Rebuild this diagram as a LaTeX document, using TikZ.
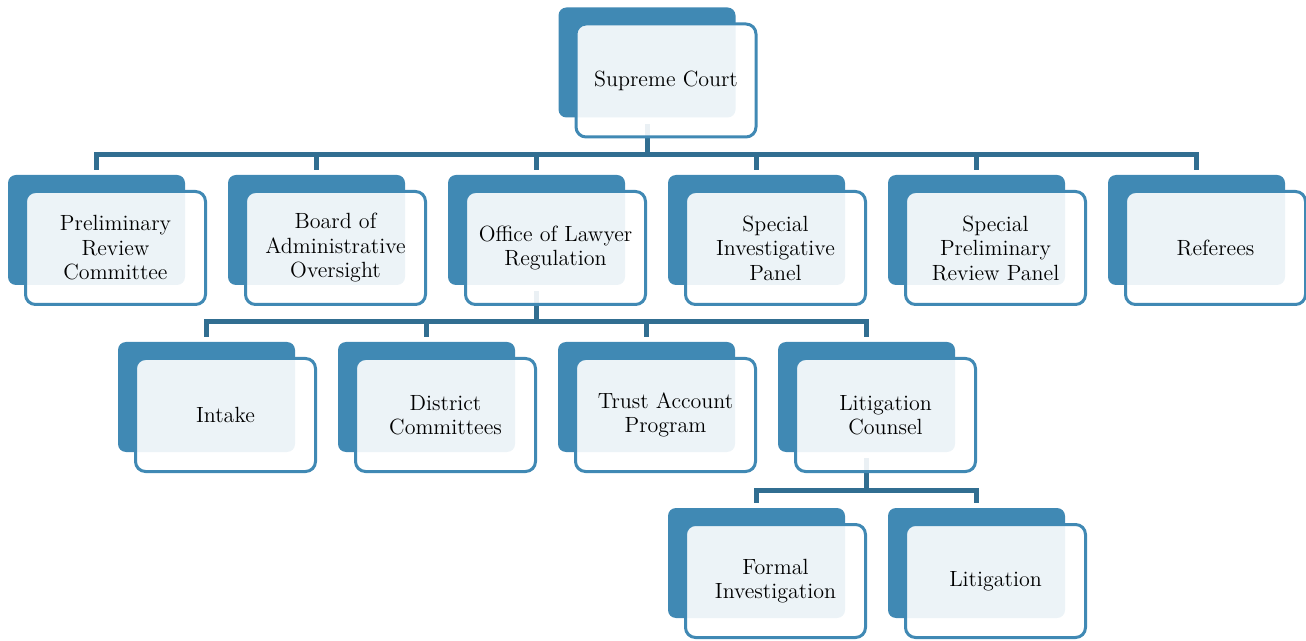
\documentclass[tikz,border=0pt]{standalone}
\usepackage{tikz}
\usetikzlibrary{backgrounds}
\definecolor{boxblue}{RGB}{64,137,180}
\definecolor{linkblue}{RGB}{49,110,145}

\begin{document}
\begin{tikzpicture}[x=0.5pt,y=-0.5pt,
  back/.style={fill=boxblue,rounded corners=4pt,minimum width=88.5pt,minimum height=55pt,inner sep=0pt},
  front/.style={draw=boxblue,line width=1.5pt,fill=white,fill opacity=0.9,text opacity=1,rounded corners=5pt,
    minimum width=90pt,minimum height=56.5pt,inner sep=0pt,align=center,font=\fontsize{11}{12.25}\selectfont},
  link/.style={draw=linkblue,line width=2.5pt}]
\useasboundingbox (0,0) rectangle (1306,641);

% top
\node[back] (sc-b) at (647,62.5) {};
\node[front] (sc) at ([shift={(19,18)}]sc-b) {Supreme Court};

% second row
\node[back] (prc-b) at (96.5,230) {};
\node[front] (prc) at ([shift={(19,18)}]prc-b) {Preliminary\\Review\\Committee};
\node[back] (bao-b) at (316.5,230) {};
\node[front] (bao) at ([shift={(19,18)}]bao-b) {Board of\\Administrative\\Oversight};
\node[back] (olr-b) at (536.5,230) {};
\node[front] (olr) at ([shift={(19,18)}]olr-b) {Office of Lawyer\\Regulation};
\node[back] (sip-b) at (756.5,230) {};
\node[front] (sip) at ([shift={(19,18)}]sip-b) {Special\\Investigative\\Panel};
\node[back] (sprp-b) at (976.5,230) {};
\node[front] (sprp) at ([shift={(19,18)}]sprp-b) {Special\\Preliminary\\Review Panel};
\node[back] (ref-b) at (1196.5,230) {};
\node[front] (ref) at ([shift={(19,18)}]ref-b) {Referees};

% third row
\node[back] (intake-b) at (206.5,397) {};
\node[front] (intake) at ([shift={(19,18)}]intake-b) {Intake};
\node[back] (dc-b) at (426.5,397) {};
\node[front] (dc) at ([shift={(19,18)}]dc-b) {District\\Committees};
\node[back] (tap-b) at (646.5,397) {};
\node[front] (tap) at ([shift={(19,18)}]tap-b) {Trust Account\\Program};
\node[back] (lc-b) at (866.5,397) {};
\node[front] (lc) at ([shift={(19,18)}]lc-b) {Litigation\\Counsel};

% fourth row
\node[back] (fi-b) at (756.5,563) {};
\node[front] (fi) at ([shift={(19,18)}]fi-b) {Formal\\Investigation};
\node[back] (lit-b) at (976.5,563) {};
\node[front] (lit) at ([shift={(19,18)}]lit-b) {Litigation};

% connectors
\coordinate (bar1) at (647,155);
\coordinate (bar2) at (536.5,322);
\coordinate (bar3) at (866.5,490);
\begin{scope}[on background layer]
\draw[link,shorten <=3pt] (sc-b.south) -- (bar1);
\foreach \n in {prc,bao,olr,sip,sprp,ref}
  \draw[link,shorten <=2.5pt] (\n-b.north) |- (bar1);
\draw[link,shorten <=3pt] (olr-b.south) -- (bar2);
\foreach \n in {intake,dc,tap,lc}
  \draw[link,shorten <=2.5pt] (\n-b.north) |- (bar2);
\draw[link,shorten <=3pt] (lc-b.south) -- (bar3);
\foreach \n in {fi,lit}
  \draw[link,shorten <=2.5pt] (\n-b.north) |- (bar3);
\end{scope}
\end{tikzpicture}
\end{document}
